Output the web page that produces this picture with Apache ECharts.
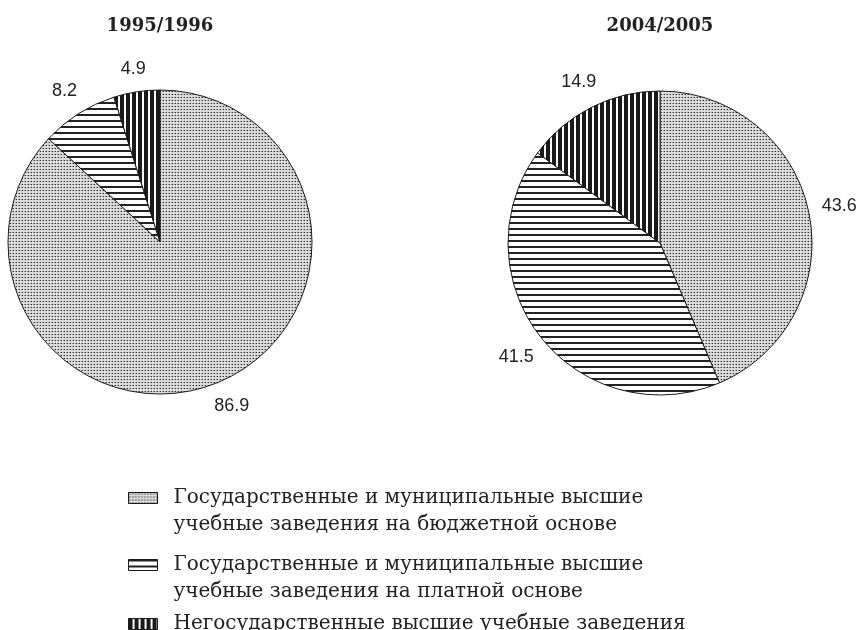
<!DOCTYPE html>
<html><head><meta charset="utf-8">
<script src="https://cdn.jsdelivr.net/npm/echarts@6/dist/echarts.min.js"></script>
<style>html,body{margin:0;padding:0;background:#fff}#c{width:862px;height:630px}</style>
</head><body><div id="c"></div>
<script>
const categories = [
  'Государственные и муниципальные высшие\nучебные заведения на бюджетной основе',
  'Государственные и муниципальные высшие\nучебные заведения на платной основе',
  'Негосударственные высшие учебные заведения'
];
const years = ['1995/1996', '2004/2005'];
const values1995 = [86.9, 8.2, 4.9];
const values2004 = [43.6, 41.5, 14.9];
const seriesValues = [values1995, values2004];

const R = 152;
const centers = [[160, 242], [660, 243]];

function makePattern(w, h, draw) {
  const c = document.createElement('canvas');
  c.width = w; c.height = h;
  const g = c.getContext('2d');
  g.fillStyle = '#fff'; g.fillRect(0, 0, w, h);
  draw(g);
  return { image: c, repeat: 'repeat' };
}
const patterns = [
  makePattern(3, 3, g => {
    g.fillStyle = '#dadada'; g.fillRect(0, 0, 3, 3);
    g.fillStyle = '#2a2a2a'; g.fillRect(1, 1, 1, 1);
    g.fillStyle = '#999'; g.fillRect(0, 1, 1, 1);
  }),
  makePattern(6, 6, g => {
    g.fillStyle = '#222'; g.fillRect(0, 0, 6, 2);
  }),
  makePattern(6, 6, g => {
    g.fillStyle = '#1a1a1a'; g.fillRect(0, 0, 4, 6);
  })
];

function pieSeries(si) {
  const vals = seriesValues[si];
  const [cx, cy] = centers[si];
  return {
    type: 'pie', name: years[si], center: [cx, cy], radius: R,
    startAngle: 90, clockwise: true, silent: true, avoidLabelOverlap: false,
    data: categories.map((n, i) => ({ name: n, value: vals[i], itemStyle: { color: patterns[i] } })),
    itemStyle: { borderColor: '#1a1a1a', borderWidth: 1 },
    label: {
      show: true, position: 'outside', formatter: p => p.value.toFixed(1),
      fontFamily: 'Liberation Sans', fontSize: 18, color: '#222'
    },
    labelLine: { show: false },
    emphasis: { disabled: true },
    labelLayout: function (p) {
      const total = vals.reduce((a, b) => a + b, 0);
      let cum = 0;
      for (let i = 0; i < p.dataIndex; i++) cum += vals[i];
      const a = (cum + vals[p.dataIndex] / 2) / total * 2 * Math.PI;
      const s = Math.sin(a), c = Math.cos(a);
      const w = p.labelRect.width, h = p.labelRect.height;
      const r = R + 12 + Math.abs(s) * w / 2 + Math.abs(c) * h / 2;
      return { x: cx + r * s, y: cy - r * c, align: 'center', verticalAlign: 'middle' };
    }
  };
}

const legendTops = [457.5, 524.5, 610.5];
const chart = echarts.init(document.getElementById('c'), null, { renderer: 'canvas' });
chart.setOption({
  animation: false,
  backgroundColor: '#fff',
  title: years.map((y, i) => ({
    text: y, left: centers[i][0], top: 17, textAlign: 'center', padding: 0,
    textStyle: { fontFamily: 'DejaVu Serif', fontWeight: 'bold', fontSize: 18, color: '#222' }
  })),
  legend: categories.map((n, i) => ({
    data: [n], orient: 'vertical', left: 128, top: legendTops[i], padding: 0,
    icon: 'rect', itemWidth: 29, itemHeight: 11, selectedMode: false,
    itemStyle: { borderColor: '#1a1a1a', borderWidth: 1 },
    formatter: name => (name.indexOf('\n') >= 0 ? '\n' + name : name),
    textStyle: { fontFamily: 'DejaVu Serif', fontSize: 20, lineHeight: 27, color: '#222', padding: [0, 0, 0, 11] }
  })),
  series: [pieSeries(0), pieSeries(1)]
});
</script>
</body></html>
